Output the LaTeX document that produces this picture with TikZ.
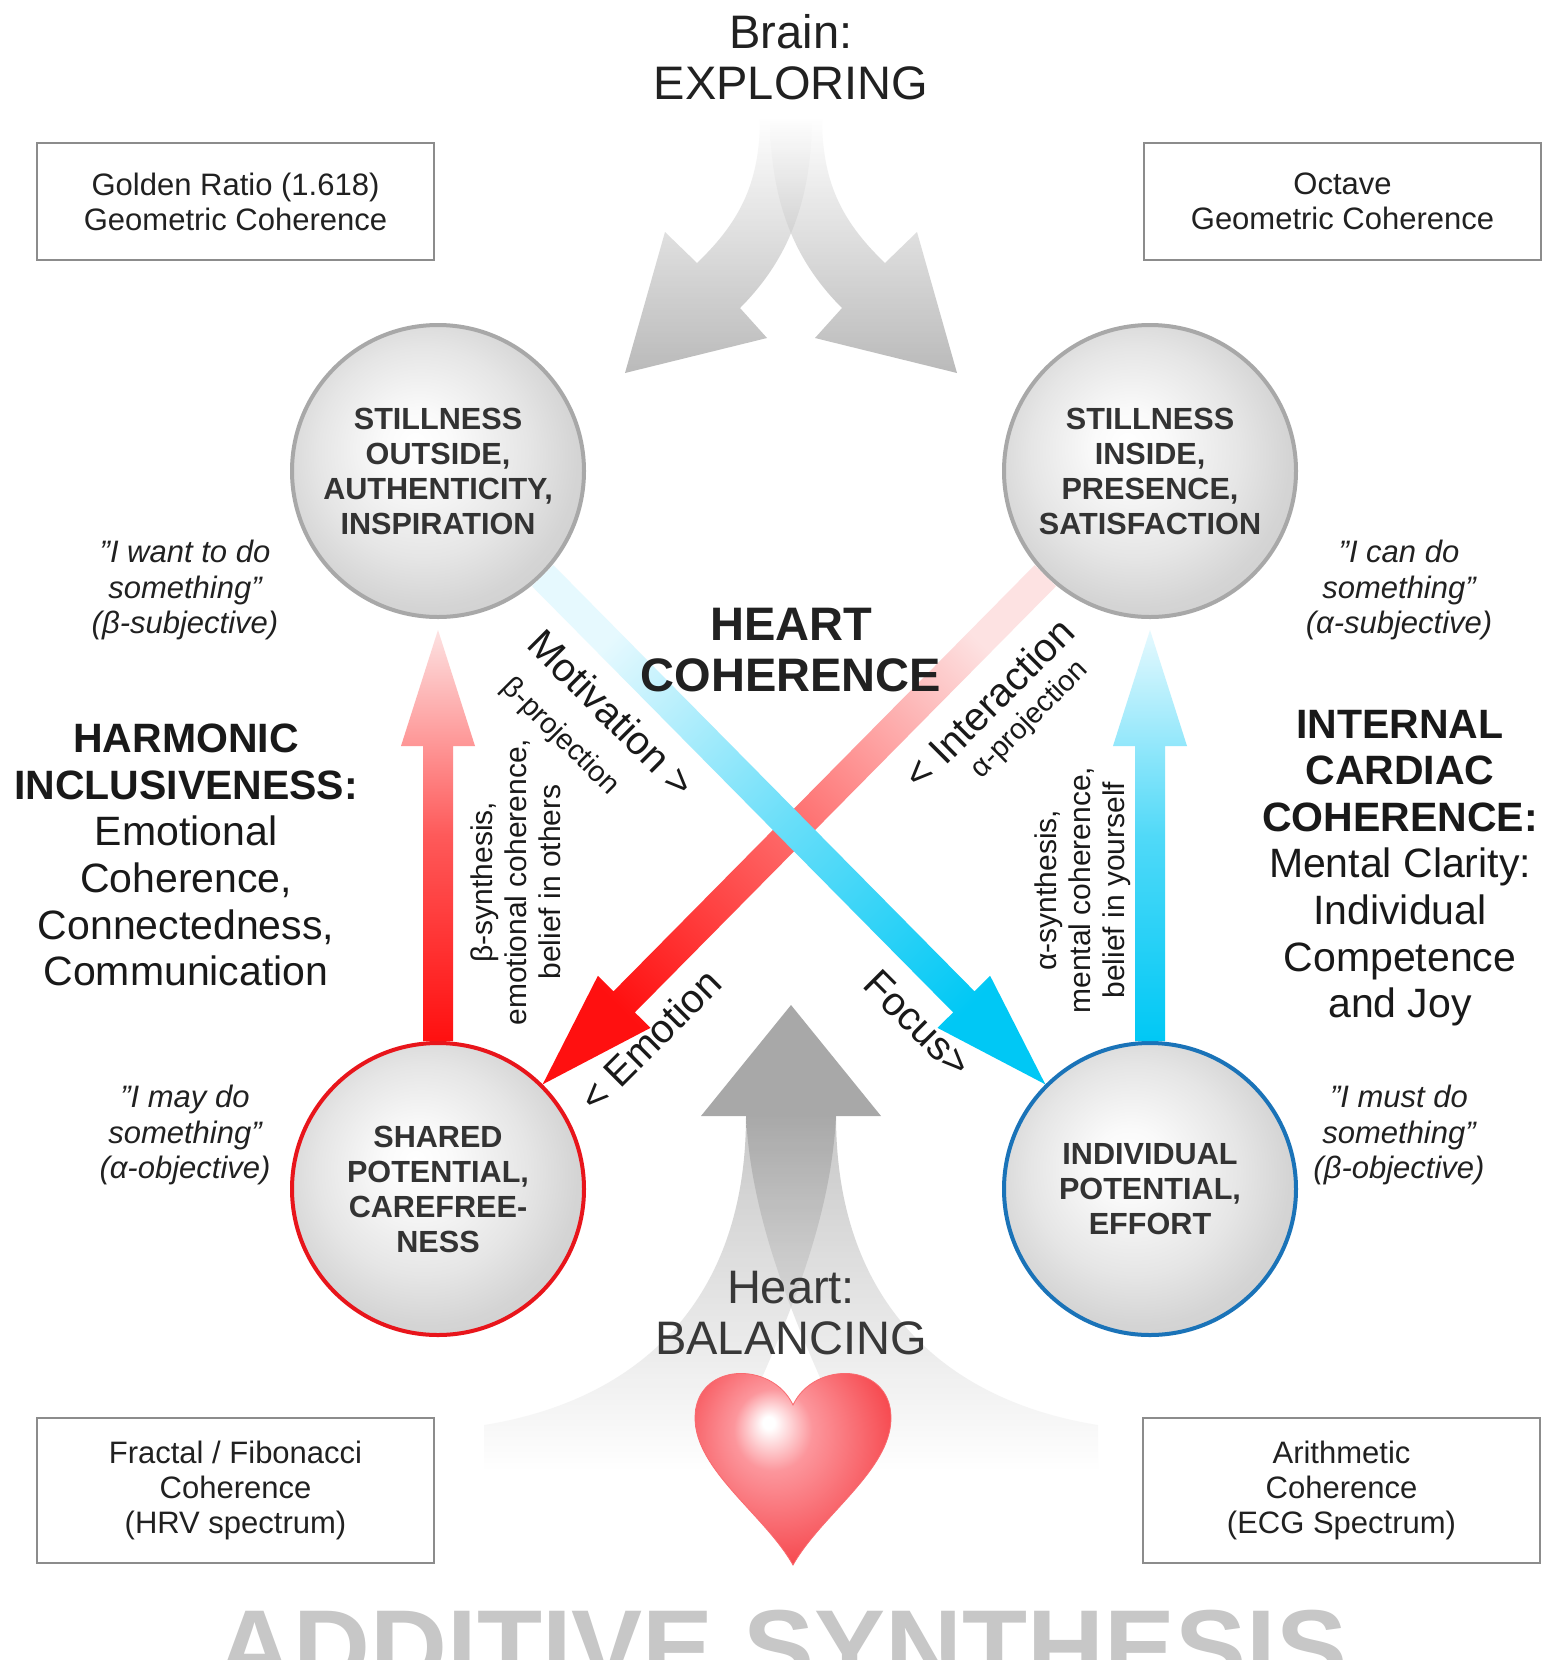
\documentclass[tikz,border=0pt]{standalone}
\usepackage{fontspec}
\setmainfont{Liberation Sans}
\usetikzlibrary{
    calc,
    positioning
}
\definecolor{hred}{RGB}{255,16,16}
\definecolor{hpink}{RGB}{253,226,226}
\definecolor{hcyan}{RGB}{0,200,245}
\definecolor{hpale}{RGB}{230,249,254}
\definecolor{rimgrey}{RGB}{168,168,168}
\definecolor{rimred}{RGB}{232,21,27}
\definecolor{rimblue}{RGB}{26,115,184}
\definecolor{heartred}{RGB}{246,70,76}
\definecolor{heartpink}{RGB}{252,150,156}
\pgfdeclareradialshading{ballgrey}{\pgfpoint{-4bp}{5bp}}{color(0bp)=(white); color(6bp)=(black!2); color(18bp)=(black!10); color(26bp)=(black!17); color(50bp)=(black!20)}
\pgfdeclareradialshading{heartglow}{\pgfpoint{-6.4bp}{10bp}}{color(0bp)=(white); color(1.5bp)=(white); color(10bp)=(heartpink); color(30bp)=(heartred); color(50bp)=(heartred)}
% thick arrow: start, tip, shading
\newcommand{\fatarrow}[3]{%
    \coordinate (fa-base) at ($(#2)!58pt!(#1)$);
    \shade[#3] ($(#1)!7.5pt!90:(#2)$) -- ($(fa-base)!7.5pt!90:(#2)$)
        -- ($(fa-base)!18.5pt!90:(#2)$) -- (#2)
        -- ($(fa-base)!18.5pt!-90:(#2)$) -- ($(fa-base)!7.5pt!-90:(#2)$)
        -- ($(#1)!7.5pt!-90:(#2)$) -- cycle;
}
\tikzset{ball/.style={circle, minimum size=146pt, inner sep=0pt, line width=2pt, shading=ballgrey, align=center, text=black!80, font={\bfseries\fontsize{15.3}{17.5}\selectfont}}}
\tikzset{rimbox/.style={draw=black!45, line width=0.8pt, minimum width=198.5pt, align=center, text=black!87, font={\fontsize{15.5}{17.5}\selectfont}}}
\tikzset{saying/.style={align=center, inner sep=0pt, text=black!87, font={\itshape\fontsize{15.5}{17.6}\selectfont}}}
\tikzset{big/.style={align=center, inner sep=0pt, text=black!87, font={\fontsize{23.5}{25.5}\selectfont}}}
\tikzset{side/.style={align=center, inner sep=0pt, text=black!90, font={\fontsize{20.5}{23.3}\selectfont}}}
\tikzset{vert/.style={align=center, inner sep=0pt, rotate=90, text=black!90, font={\fontsize{15}{17}\selectfont}}}
\tikzset{diag/.style={inner sep=0pt, text=black!90, font={\fontsize{20}{22}\selectfont}}}
\tikzset{diagsmall/.style={inner sep=0pt, text=black!90, font={\fontsize{14.5}{16}\selectfont}}}

\begin{document}
\begin{tikzpicture}[x=0.5pt, y=-0.5pt]
    \useasboundingbox (0, 0) rectangle (1556, 1660);
    \fill[white] (0, 0) rectangle (1556, 1660);

    % brain arrows
    \shade[top color=white, bottom color=black!45, fill opacity=0.6]
        (760, 117) .. controls (760, 180) and (742, 220) .. (697, 263) -- (665, 232) -- (625, 373)
        -- (767, 338) -- (740, 308) .. controls (778, 270) and (812, 215) .. (812, 117) -- cycle;
    \shade[top color=white, bottom color=black!45, fill opacity=0.6]
        (822, 117) .. controls (822, 180) and (840, 220) .. (885, 263) -- (917, 232) -- (957, 373)
        -- (815, 338) -- (842, 308) .. controls (804, 270) and (770, 215) .. (770, 117) -- cycle;

    % heart arrow
    \shade[top color=black!48, bottom color=white, fill opacity=0.45]
        (746, 1116) .. controls (746, 1300) and (640, 1400) .. (484, 1425) -- (484, 1470)
        -- (720, 1470) .. controls (770, 1360) and (830, 1240) .. (836, 1116) -- cycle;
    \shade[top color=black!48, bottom color=white, fill opacity=0.45]
        (836, 1116) .. controls (836, 1300) and (942, 1400) .. (1098, 1425) -- (1098, 1470)
        -- (862, 1470) .. controls (812, 1360) and (752, 1240) .. (746, 1116) -- cycle;
    \fill[black!34] (701, 1116) -- (791, 1005) -- (881, 1116) -- cycle;

    \node[ball, draw=rimgrey] (stillout) at (438, 471) {STILLNESS\\OUTSIDE,\\AUTHENTICITY,\\INSPIRATION};
    \node[ball, draw=rimgrey] (stillin) at (1150, 471) {STILLNESS\\INSIDE,\\PRESENCE,\\SATISFACTION};
    \node[ball, draw=rimred] (shared) at (438, 1189) {SHARED\\POTENTIAL,\\CAREFREE-\\NESS};
    \node[ball, draw=rimblue] (indiv) at (1150, 1189) {INDIVIDUAL\\POTENTIAL,\\EFFORT};

    \coordinate (redtip) at ($(stillout.south)+(0, 11)$);
    \coordinate (bluetip) at ($(stillin.south)+(0, 11)$);

    \fatarrow{stillin.-135}{shared.45}{top color=hpink, bottom color=hred, middle color=hred!55!hpink, shading angle=-45}
    \fatarrow{stillout.-45}{indiv.135}{top color=hpale, bottom color=hcyan, middle color=hcyan!55!hpale, shading angle=45}
    \fatarrow{shared.north}{redtip}{top color=hpink, bottom color=hred, middle color=hred!65!hpink}
    \fatarrow{indiv.north}{bluetip}{top color=hpale, bottom color=hcyan, middle color=hcyan!65!hpale}

    % heart
    \shade[shading=heartglow, draw=heartred!70!pink, line width=0.4pt]
        (793, 1405) .. controls (772, 1360) and (695, 1362) .. (695, 1418)
        .. controls (695, 1470) and (765, 1515) .. (793, 1565)
        .. controls (821, 1515) and (891, 1470) .. (891, 1418)
        .. controls (891, 1362) and (814, 1360) .. (793, 1405) -- cycle;

    \node[big] (brain) at (791, 57) {Brain:\\EXPLORING};
    \node[big, text=black!78] (balance) at (791, 1313) {Heart:\\BALANCING};
    \node[big, font={\bfseries\fontsize{23.5}{25.5}\selectfont}] (hcoh) at (791, 650) {HEART\\COHERENCE};

    \node[rimbox, minimum height=58.5pt] (golden) at (235.5, 201.5) {Golden Ratio (1.618)\\Geometric Coherence};
    \node[rimbox, minimum height=58.5pt] (octave) at (1342.5, 201.5) {Octave\\Geometric Coherence};
    \node[rimbox, minimum height=72.5pt] (fractal) at (235.5, 1490.5) {Fractal / Fibonacci\\Coherence\\(HRV spectrum)};
    \node[rimbox, minimum height=72.5pt] (arith) at (1341.5, 1490.5) {Arithmetic\\Coherence\\(ECG Spectrum)};

    \node[saying] (qwant) at (185, 590) {”I want to do\\something”\\(β-subjective)};
    \node[saying] (qcan) at (1399, 590) {”I can do\\something”\\(α-subjective)};
    \node[saying] (qmay) at (185, 1135) {”I may do\\something”\\(α-objective)};
    \node[saying] (qmust) at (1399, 1135) {”I must do\\something”\\(β-objective)};

    \node[side] (harmonic) at (186, 855) {\textbf{HARMONIC}\\\textbf{INCLUSIVENESS:}\\Emotional\\Coherence,\\Connectedness,\\Communication};
    \node[side] (internal) at (1400, 868) {\textbf{INTERNAL}\\\textbf{CARDIAC}\\\textbf{COHERENCE:}\\Mental Clarity:\\Individual\\Competence\\and Joy};

    \node[vert] (bsyn) at (516, 882) {β-synthesis,\\emotional coherence,\\belief in others};
    \node[vert] (asyn) at (1083, 890) {α-synthesis,\\mental coherence,\\belief in yourself};

    \node[diag, rotate=-45] (motiv) at (612, 713) {Motivation >};
    \node[diagsmall, rotate=-45] (bproj) at (560, 737) {β-projection};
    \node[diag, rotate=45] (inter) at (989, 703) {< Interaction};
    \node[diagsmall, rotate=45] (aproj) at (1030, 720) {α-projection};
    \node[diag, rotate=45] (emot) at (650, 1040) {< Emotion};
    \node[diag, rotate=-45] (focus) at (918, 1024) {Focus>};

    \node[anchor=base, inner sep=0pt, text=black!22, font={\bfseries\fontsize{53.25}{60}\selectfont}] (additive) at (782, 1684) {ADDITIVE SYNTHESIS};
\end{tikzpicture}
\end{document}
